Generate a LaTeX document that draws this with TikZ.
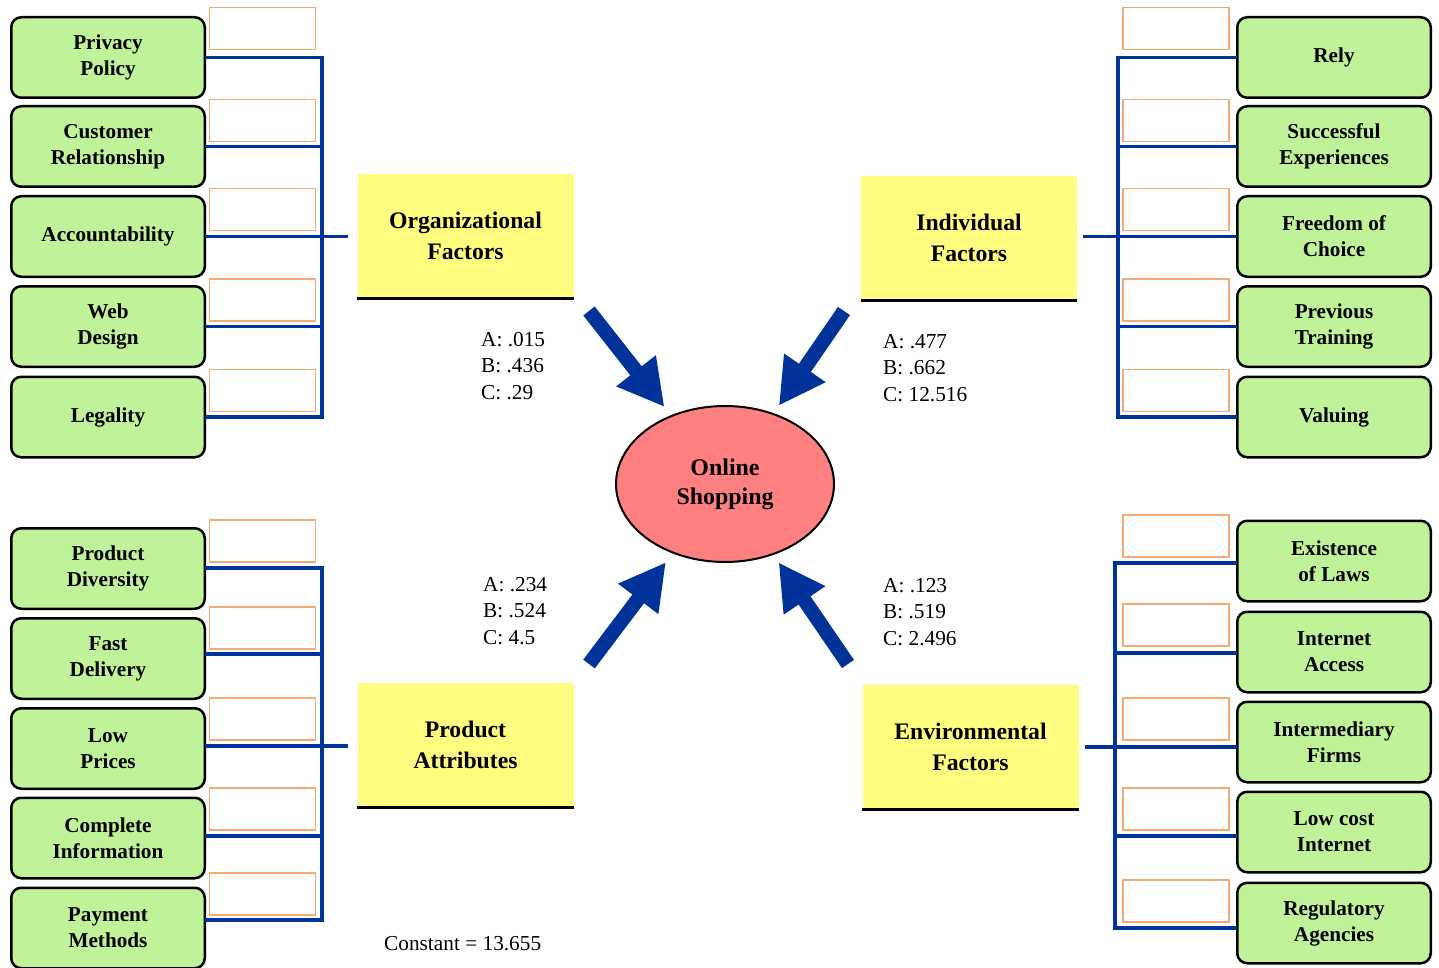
\documentclass[tikz,border=0pt]{standalone}
\usepackage{fontspec}
\setmainfont{Liberation Serif}
\usetikzlibrary{arrows.meta,shapes.geometric,calc}
\definecolor{leafgreen}{HTML}{C0F29A}
\definecolor{scoreorange}{HTML}{F7AA72}
\definecolor{factoryellow}{HTML}{FFFC80}
\definecolor{busblue}{HTML}{003399}
\definecolor{ovalred}{HTML}{FF8080}
\tikzset{
  leaf/.style={draw=black, line width=2.5pt, rounded corners=10pt, fill=leafgreen,
    minimum width=193.5pt, minimum height=80.5pt, inner sep=0pt, outer sep=0pt, align=center,
    font=\fontsize{21.2}{26}\selectfont\bfseries},
  score/.style={draw=scoreorange, line width=1.2pt, minimum width=106pt, minimum height=42pt, inner sep=0pt},
  factor/.style={fill=factoryellow, minimum width=216pt, minimum height=124pt, inner sep=0pt, align=center,
    font=\fontsize{23.7}{31}\selectfont\bfseries},
  factorline/.style={draw=black, line width=3pt},
  bus/.style={draw=busblue, line width=3.8pt},
  bigarrow/.style={draw=busblue, line width=14.5pt, -{Triangle[width=47pt,length=46pt]}},
  stat/.style={align=left, anchor=west, inner sep=0pt, font=\fontsize{21.3}{26.5}\selectfont},
}
\begin{document}
\begin{tikzpicture}[x=1pt,y=-1pt]
\useasboundingbox (0,0) rectangle (1439,968);

% ---------- top-left group ----------
\node[leaf] (pp) at (108,57.5) {Privacy\\Policy};
\node[leaf] (cr) at (108,146.5) {Customer\\Relationship};
\node[leaf] (ac) at (108,236.5) {Accountability};
\node[leaf] (wd) at (108,326.5) {Web\\Design};
\node[leaf] (lg) at (108,417) {Legality};
\node[score] (s1) at (262.5,28.5) {};
\node[score] (s2) at (262.5,120.5) {};
\node[score] (s3) at (262.5,209.5) {};
\node[score] (s4) at (262.5,300) {};
\node[score] (s5) at (262.5,390.5) {};
\coordinate (bLT) at (322,0);
\node[factor] (org) at (465.5,236) {Organizational\\Factors};
\draw[factorline] (org.south west) -- (org.south east);
\draw[bus] (pp.east) -- (pp.east -| bLT) -- (lg.east -| bLT) -- (lg.east);
\draw[bus] (cr.east) -- (cr.east -| bLT);
\draw[bus] (wd.east) -- (wd.east -| bLT);
\draw[bus, shorten >=9pt] (ac.east) -- (ac.east -| org.west);

% ---------- top-right group ----------
\node[leaf] (ry) at (1334,57.5) {Rely};
\node[leaf] (se) at (1334,146.5) {Successful\\Experiences};
\node[leaf] (fc) at (1334,236.5) {Freedom of\\Choice};
\node[leaf] (pt) at (1334,326.5) {Previous\\Training};
\node[leaf] (va) at (1334,417) {Valuing};
\node[score] (r1) at (1176,28.5) {};
\node[score] (r2) at (1176,120.5) {};
\node[score] (r3) at (1176,209.5) {};
\node[score] (r4) at (1176,300) {};
\node[score] (r5) at (1176,390.5) {};
\coordinate (bRT) at (1118,0);
\node[factor] (ind) at (969,238) {Individual\\Factors};
\draw[factorline] (ind.south west) -- (ind.south east);
\draw[bus] (ry.west) -- (ry.west -| bRT) -- (va.west -| bRT) -- (va.west);
\draw[bus] (se.west) -- (se.west -| bRT);
\draw[bus] (pt.west) -- (pt.west -| bRT);
\draw[bus, shorten >=6pt] (fc.west) -- (fc.west -| ind.east);

% ---------- bottom-left group ----------
\node[leaf] (pd) at (108,568.5) {Product\\Diversity};
\node[leaf] (fd) at (108,658.5) {Fast\\Delivery};
\node[leaf] (lp) at (108,748.5) {Low\\Prices};
\node[leaf] (ci) at (108,838) {Complete\\Information};
\node[leaf] (pm) at (108,928) {Payment\\Methods};
\node[score] (p1) at (262.5,541) {};
\node[score] (p2) at (262.5,628) {};
\node[score] (p3) at (262.5,719) {};
\node[score] (p4) at (262.5,809) {};
\node[score] (p5) at (262.5,894) {};
\coordinate (bLB) at (322,0);
\node[factor] (pa) at (465.5,745) {Product\\Attributes};
\draw[factorline] (pa.south west) -- (pa.south east);
\draw[bus] ([yshift=0.5pt]pd.east) -- ([yshift=0.5pt]pd.east -| bLB) -- ([yshift=8pt]pm.east -| bLB) -- ([yshift=8pt]pm.east);
\draw[bus] ([yshift=4.5pt]fd.east) -- ([yshift=4.5pt]fd.east -| bLB);
\draw[bus] ([yshift=2pt]ci.east) -- ([yshift=2pt]ci.east -| bLB);
\draw[bus, shorten >=9pt] ([yshift=2.5pt]lp.east) -- ([yshift=2.5pt]lp.east -| pa.west);

% ---------- bottom-right group ----------
\node[leaf] (el) at (1334,561) {Existence\\of Laws};
\node[leaf] (ia) at (1334,652) {Internet\\Access};
\node[leaf] (im) at (1334,742) {Intermediary\\Firms};
\node[leaf] (lc) at (1334,832) {Low cost\\Internet};
\node[leaf] (ra) at (1334,923) {Regulatory\\Agencies};
\node[score] (e1) at (1176,536) {};
\node[score] (e2) at (1176,625) {};
\node[score] (e3) at (1176,719) {};
\node[score] (e4) at (1176,809) {};
\node[score] (e5) at (1176,901) {};
\coordinate (bRB) at (1115,0);
\node[factor] (env) at (970.5,747) {Environmental\\Factors};
\draw[factorline] (env.south west) -- (env.south east);
\draw[bus] ([yshift=-2pt]el.west) -- ([yshift=-2pt]el.west -| bRB) -- ([yshift=-5pt]ra.west -| bRB) -- ([yshift=-5pt]ra.west);
\draw[bus] ([yshift=-1pt]ia.west) -- ([yshift=-1pt]ia.west -| bRB);
\draw[bus] ([yshift=-4pt]lc.west) -- ([yshift=-4pt]lc.west -| bRB);
\draw[bus, shorten >=6pt] ([yshift=-5pt]im.west) -- ([yshift=-5pt]im.west -| env.east);

% ---------- centre ----------
\node[ellipse, draw=black, line width=2pt, fill=ovalred, minimum width=218pt, minimum height=156pt,
  inner sep=0pt, align=center, font=\fontsize{23.9}{29}\selectfont\bfseries] (os) at (725,484) {Online\\Shopping};

\coordinate (a1) at (589,311);
\coordinate (a2) at (844,311);
\coordinate (a3) at (589,664);
\coordinate (a4) at (848,664);
\draw[bigarrow, shorten >=98pt] (a1) -- (os.center);
\draw[bigarrow, shorten >=95pt] (a2) -- (os.center);
\draw[bigarrow, shorten >=98pt] (a3) -- (os.center);
\draw[bigarrow, shorten >=95pt] (a4) -- (os.center);

\node[stat] (st1) at (481,366) {A: .015\\B: .436\\C: .29};
\node[stat] (st2) at (883,368) {A: .477\\B: .662\\C: 12.516};
\node[stat] (st3) at (483,611) {A: .234\\B: .524\\C: 4.5};
\node[stat] (st4) at (883,612) {A: .123\\B: .519\\C: 2.496};
\node[stat] (cst) at (384,944) {Constant = 13.655};
\end{tikzpicture}
\end{document}
